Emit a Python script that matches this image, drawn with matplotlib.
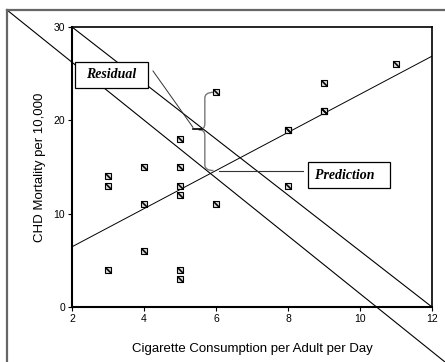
import numpy as np
import matplotlib.pyplot as plt
from matplotlib.lines import Line2D
from matplotlib.patches import Rectangle, PathPatch
from matplotlib.path import Path

# cigarette consumption vs CHD mortality (21 countries)
cigarettes = [11, 9, 9, 9, 8, 8, 8, 6, 6, 5, 5, 5, 5, 5, 5, 4, 4, 4, 3, 3, 3]
chd_mortality = [26, 21, 24, 21, 19, 13, 19, 11, 23, 15, 13, 4, 18, 12, 3, 11, 15, 6, 13, 4, 14]
x_ticks = [2, 4, 6, 8, 10, 12]
y_ticks = [0, 10, 20, 30]

W, H = 445, 362
fig = plt.figure(figsize=(W / 100, H / 100), dpi=100)
ax = fig.add_axes([72 / W, 55 / H, 360 / W, 280 / H])

sans = "Liberation Sans"
serif = "Liberation Serif"

# regression line
slope, intercept = np.polyfit(cigarettes, chd_mortality, 1)
xs = np.array([x_ticks[0], x_ticks[-1]])
ax.plot(xs, intercept + slope * xs, color="black", lw=0.7, zorder=3)

# inner diagonal across the plot area
ax.plot([0, 1], [1, 0], transform=ax.transAxes, color="black", lw=0.8, zorder=3)

# outer frame (top + left) and its diagonal
y_top = 1 - 10 / H
x_left = 7 / W
fig.add_artist(Line2D([x_left, 1], [y_top, y_top], transform=fig.transFigure,
                      color="#666666", lw=1.6))
fig.add_artist(Line2D([x_left, x_left], [y_top, 0], transform=fig.transFigure,
                      color="#666666", lw=1.6))
ax.add_line(Line2D([x_left, 1], [y_top, 0], transform=fig.transFigure,
                   color="black", lw=0.8, clip_on=False, zorder=3))

# data points: hatched squares
ax.plot(cigarettes, chd_mortality, ls="none", marker="s", markersize=5,
        markerfacecolor="#d8d8d8", markeredgecolor="black", markeredgewidth=0.8,
        zorder=5)
ax.plot(cigarettes, chd_mortality, ls="none", marker=(2, 2, 45), markersize=6.5,
        markeredgecolor="black", markeredgewidth=0.8, zorder=6)

# curly brace between observed and predicted value at x = 6
pred6 = intercept + slope * 6
bx = 5.69
verts = [(5.93, 23.0), (bx, 23.0), (bx, 22.4),
         (bx, 19.6),
         (bx, 19.0), (5.52, 19.0),
         (bx, 19.0), (bx, 18.4),
         (bx, pred6 + 0.6),
         (bx, pred6), (5.93, pred6)]
codes = [Path.MOVETO, Path.CURVE3, Path.CURVE3,
         Path.LINETO,
         Path.CURVE3, Path.CURVE3,
         Path.CURVE3, Path.CURVE3,
         Path.LINETO,
         Path.CURVE3, Path.CURVE3]
ax.add_patch(PathPatch(Path(verts, codes), fill=False, edgecolor="#777777",
                       lw=1.0, clip_on=False, zorder=4))
ax.plot([5.36, 5.6], [19.1, 19.1], color="black", lw=1.2, zorder=4)

# Residual label
ax.plot([4.25, 5.36], [25.29, 19.25], color="#333333", lw=0.7, zorder=4)
ax.add_patch(Rectangle((2.083, 23.46), 2.028, 2.79, facecolor="white",
                       edgecolor="black", lw=0.9, clip_on=False, zorder=7))
ax.text(3.10, 24.86, "Residual", family=serif, fontsize=10, fontweight="bold",
        fontstyle="italic", ha="center", va="center", zorder=8)

# Prediction label
ax.plot([6.08, 8.42], [pred6, pred6], color="#333333", lw=0.8, zorder=4)
ax.add_patch(Rectangle((8.556, 12.75), 2.277, 2.79, facecolor="white",
                       edgecolor="black", lw=0.9, clip_on=False, zorder=7))
ax.text(9.58, 14.14, "Prediction", family=serif, fontsize=10, fontweight="bold",
        fontstyle="italic", ha="center", va="center", zorder=8)

ax.set_xlim(x_ticks[0], x_ticks[-1])
ax.set_ylim(y_ticks[0], y_ticks[-1])
ax.set_xticks(x_ticks)
ax.set_yticks(y_ticks)
ax.tick_params(direction="out", length=3, width=0.8, labelsize=7.5, pad=2)
for lab in ax.get_xticklabels() + ax.get_yticklabels():
    lab.set_family(sans)
for side in ["left", "bottom"]:
    ax.spines[side].set_linewidth(1.5)
for side in ["top", "right"]:
    ax.spines[side].set_linewidth(1.2)

ax.set_xlabel("Cigarette Consumption per Adult per Day", family=sans,
              fontsize=9.5, labelpad=14)
ax.set_ylabel("CHD Mortality per 10,000", family=sans, fontsize=9.5, labelpad=5)

fig.savefig("out.png", dpi=100)
